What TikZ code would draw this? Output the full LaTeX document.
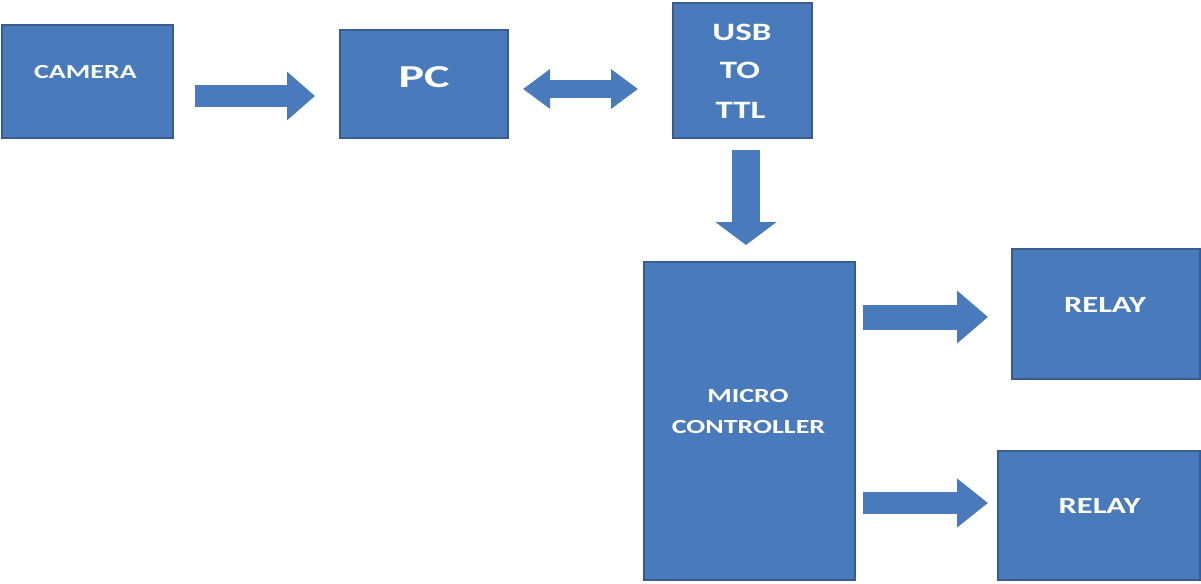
\documentclass[tikz,border=0pt]{standalone}
\usepackage{fontspec}
\setmainfont{Carlito}
\usetikzlibrary{arrows.meta}
\definecolor{blockfill}{RGB}{72,122,188}
\definecolor{blockedge}{RGB}{56,93,140}
\begin{document}
\begin{tikzpicture}[
  block/.style={draw=blockedge, line width=0.8pt, fill=blockfill,
                inner sep=0pt, outer sep=0pt},
  lbl/.style={text=white, inner sep=0pt, anchor=base},
  barrow/.style n args={3}{draw=blockfill, line width=#1,
                -{Triangle[length=#3, width=#2, fill=blockfill]}},
  dbarrow/.style n args={3}{draw=blockfill, line width=#1,
                {Triangle[length=#3, width=#2, fill=blockfill]}-{Triangle[length=#3, width=#2, fill=blockfill]}}
]
\newcommand\wide[1]{\scalebox{1.4}[1]{#1}}
\useasboundingbox (0,0) rectangle (600.5pt,-292pt);

% blocks
\node[block, minimum width=85.5pt, minimum height=56.5pt] (cam) at (43.75pt,-40.75pt) {};
\node[block, minimum width=84pt,   minimum height=54pt]   (pc)  at (212pt,-42pt) {};
\node[block, minimum width=69.5pt, minimum height=67.5pt] (usb) at (371.25pt,-35.25pt) {};
\node[block, minimum width=105.5pt,minimum height=159pt]  (mcu) at (374.75pt,-210.5pt) {};
\node[block, minimum width=94pt,   minimum height=65pt]   (ra)  at (553pt,-157pt) {};
\node[block, minimum width=101pt,  minimum height=64.5pt] (rb)  at (549.5pt,-257.75pt) {};

% labels
\node[lbl, font=\bfseries\fontsize{10pt}{12pt}\selectfont] (camT) at (42.75pt,-39pt) {\wide{CAMERA}};
\node[lbl, font=\bfseries\fontsize{16pt}{18pt}\selectfont] (pcT) at (212pt,-43.5pt) {\scalebox{1.5}[1]{PC}};
\node[lbl, font=\bfseries\fontsize{12.5pt}{14pt}\selectfont] (usbA) at (371pt,-20pt) {\wide{USB}};
\node[lbl, font=\bfseries\fontsize{12.5pt}{14pt}\selectfont] (usbB) at (370pt,-39pt) {\wide{TO}};
\node[lbl, font=\bfseries\fontsize{12.5pt}{14pt}\selectfont] (usbC) at (370.25pt,-59pt) {\wide{TTL}};
\node[lbl, font=\bfseries\fontsize{10pt}{12pt}\selectfont] (mcuA) at (374pt,-201pt) {\wide{MICRO}};
\node[lbl, font=\bfseries\fontsize{10pt}{12pt}\selectfont] (mcuB) at (374.25pt,-216.5pt) {\wide{CONTROLLER}};
\node[lbl, font=\bfseries\fontsize{11.6pt}{13pt}\selectfont] (raT) at (552.5pt,-156pt) {\wide{RELAY}};
\node[lbl, font=\bfseries\fontsize{11.6pt}{13pt}\selectfont] (rbT) at (549.75pt,-256.5pt) {\wide{RELAY}};

% block arrows
\draw[barrow={11pt}{23.5pt}{14pt}, shorten <=11pt, shorten >=12.5pt]
  ([yshift=-7.25pt]cam.east) -- ([yshift=-6pt]pc.west);
\draw[dbarrow={9pt}{19pt}{13.5pt}, shorten <=7.5pt, shorten >=17.5pt]
  ([yshift=-2.5pt]pc.east) -- ([yshift=-9.25pt]usb.west);
\draw[barrow={14pt}{30pt}{11.5pt}, shorten <=6pt, shorten >=8.5pt]
  ([xshift=1.75pt]usb.south) -- ([xshift=-1.75pt]mcu.north);
\draw[barrow={12.5pt}{25.5pt}{15.5pt}, shorten <=4pt, shorten >=12pt]
  ([yshift=52pt]mcu.east) -- ([yshift=-1.5pt]ra.west);
\draw[barrow={11pt}{23.5pt}{15.5pt}, shorten <=4pt, shorten >=5pt]
  ([yshift=-41pt]mcu.east) -- ([yshift=6.25pt]rb.west);
\end{tikzpicture}
\end{document}
